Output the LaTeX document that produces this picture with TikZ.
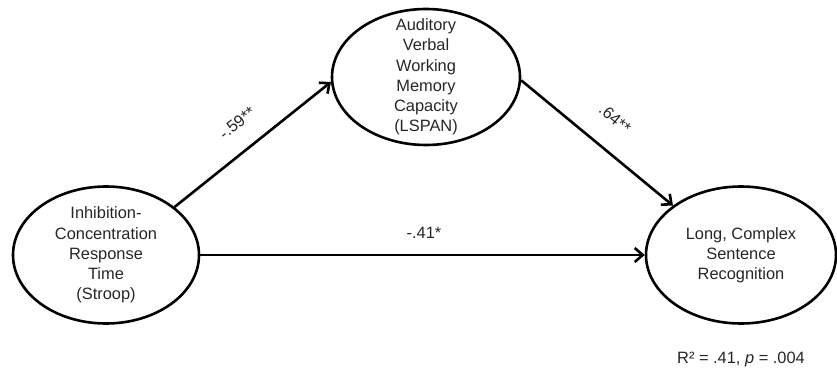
\documentclass[tikz,border=0pt]{standalone}
\usepackage{fontspec}
\setmainfont{Liberation Sans}
\usetikzlibrary{shapes.geometric,arrows.meta}
\begin{document}
\begin{tikzpicture}[x=1pt,y=1pt,
  ell/.style={ellipse,draw=black,line width=2.6pt,inner sep=0pt},
  txt/.style={align=center,font=\fontsize{16.4}{20.2}\selectfont,text=black!85,inner sep=0pt},
  lbl/.style={font=\fontsize{16.4}{20.2}\selectfont,text=black!85,inner sep=0pt},
  conn/.style={line width=2.6pt,-{Straight Barb[length=8pt,width=14pt]}}]
\useasboundingbox (0,0) rectangle (837,370);
\node[ell,minimum width=186pt,minimum height=137pt] (left) at (106,115) {};
\node[ell,minimum width=188pt,minimum height=136pt] (top) at (426,293) {};
\node[ell,minimum width=190pt,minimum height=137pt] (right) at (741,115) {};
\node[txt] (lefttxt) at (left.center) {Inhibition-\\Concentration\\Response\\Time\\(Stroop)};
\node[txt] (toptxt) at (top.center) {Auditory\\Verbal\\Working\\Memory\\Capacity\\(LSPAN)};
\node[txt] (righttxt) at (right.center) {Long, Complex\\Sentence\\Recognition};
\draw[conn] (left.35) -- (top.183);
\draw[conn] (top.-2) -- (right.144);
\draw[conn] (left) -- (right);
\node[lbl,rotate=39] (l59) at (237,247) {-.59**};
\node[lbl,rotate=-40] (l64) at (615,251) {.64**};
\node[lbl] (l41) at (424,137) {-.41*};
\node[lbl] (r2) at (741,11) {R² = .41, \textit{p} = .004};
\end{tikzpicture}
\end{document}
